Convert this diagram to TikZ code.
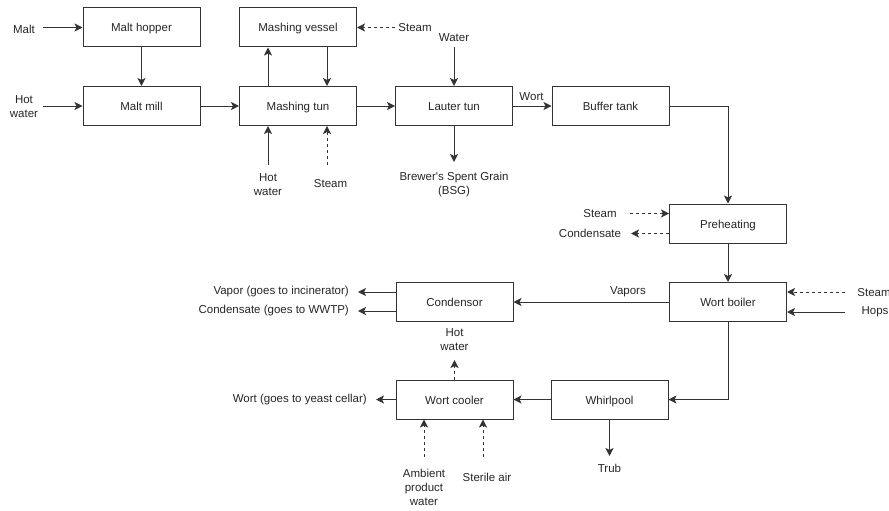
\documentclass[tikz,border=0pt]{standalone}
\usepackage{fontspec}
\setmainfont{Liberation Sans}
\usetikzlibrary{arrows.meta}
\begin{document}
\begin{tikzpicture}[x=1pt,y=-1pt,
  font=\fontsize{11.5}{14}\selectfont,
  unit/.style={draw=black!80, line width=1pt, minimum width=117pt, minimum height=39pt, inner sep=0pt,
    text=black!85, text height=9.5pt, text depth=0.5pt},
  lbl/.style={inner sep=0pt, text=black!85, align=center},
  lblr/.style={lbl, anchor=east},
  flow/.style={draw=black!80, line width=1pt, -{Stealth[length=8pt,width=8pt,inset=2pt]}},
  util/.style={flow, dash pattern=on 3pt off 3pt}
]
\useasboundingbox (0,0) rectangle (889,511);

% process units
\node[unit] (hopper) at (141.5,27.5) {Malt hopper};
\node[unit] (mill)   at (141.5,106)  {Malt mill};
\node[unit] (vessel) at (298,27.5)   {Mashing vessel};
\node[unit] (mtun)   at (298,106)    {Mashing tun};
\node[unit] (lauter) at (454,106)    {Lauter tun};
\node[unit] (buffer) at (610.5,106)  {Buffer tank};
\node[unit] (preheat) at (728,223.5) {Preheating};
\node[unit] (boiler) at (728,302)    {Wort boiler};
\node[unit] (condensor) at (454.5,302) {Condensor};
\node[unit] (whirl)  at (609.5,399.5) {Whirlpool};
\node[unit] (cooler) at (454.5,399.5) {Wort cooler};

% stream labels
\node[lbl] (tMalt)   at (24,29)    {Malt};
\node[lbl] (tHotL)   at (24,107)   {Hot\\water};
\node[lbl] (tSteamV) at (415,28)   {Steam};
\node[lbl] (tHotB)   at (268,185)  {Hot\\water};
\node[lbl] (tSteamB) at (330.5,184) {Steam};
\node[lbl] (tWater)  at (454,38)   {Water};
\node[lbl] (tBSG)    at (454,185)  {Brewer\textquotesingle s Spent Grain\\(BSG)};
\node[lbl] (tWort)   at (531.5,97) {Wort};
\node[lbl] (tSteamP) at (600,214)  {Steam};
\node[lbl] (tCondP)  at (590,233)  {Condensate};
\node[lbl] (tSteamW) at (874,293)  {Steam};
\node[lbl] (tHops)   at (875,312)  {Hops};
\node[lbl] (tVapors) at (628,292)  {Vapors};
\node[lblr] (tVapor) at (349,292)  {Vapor (goes to incinerator)};
\node[lblr] (tCondC) at (349,311)  {Condensate (goes to WWTP)};
\node[lblr] (tYeast) at (367,399.5) {Wort (goes to yeast cellar)};
\node[lbl] (tHotC)   at (454.5,340) {Hot\\water};
\node[lbl] (tTrub)   at (609.5,468) {Trub};
\node[lbl] (tAmb)    at (424,487)  {Ambient\\product\\water};
\node[lbl] (tSterile) at (487,477) {Sterile air};

% free stream ends
\coordinate (maltIn)   at (43,27.5);
\coordinate (hotLIn)   at (43,106);
\coordinate (steamVIn) at (395,27.5);
\coordinate (hotBIn)   at (268,165);
\coordinate (steamBIn) at (327,165);
\coordinate (waterIn)  at (454,47);
\coordinate (bsgOut)   at (454,162);
\coordinate (steamPIn) at (630,213.5);
\coordinate (condPOut) at (631,233.5);
\coordinate (steamWIn) at (845,292);
\coordinate (hopsIn)   at (845,312);
\coordinate (vapOut)   at (358,292);
\coordinate (condCOut) at (358,311);
\coordinate (yeastOut) at (376,399.5);
\coordinate (hotCOut)  at (454.5,360);
\coordinate (trubOut)  at (609.5,456);
\coordinate (ambIn)    at (424,457);
\coordinate (sterIn)   at (483,457);

% main flow
\draw[flow] (maltIn) -- (maltIn -| hopper.west);
\draw[flow] (hotLIn) -- (hotLIn -| mill.west);
\draw[flow] (hopper) -- (mill);
\draw[flow] (mill) -- (mtun);
\draw[flow] ([xshift=-30pt]mtun.north) -- ([xshift=-30pt]vessel.south);
\draw[flow] ([xshift=29pt]vessel.south) -- ([xshift=29pt]mtun.north);
\draw[util] (steamVIn) -- (steamVIn -| vessel.east);
\draw[flow] (hotBIn) -- (hotBIn |- mtun.south);
\draw[util] (steamBIn) -- (steamBIn |- mtun.south);
\draw[flow] (mtun) -- (lauter);
\draw[flow] (waterIn) -- (lauter.north);
\draw[flow] (lauter.south) -- (bsgOut);
\draw[flow] (lauter) -- (buffer);
\draw[flow] (buffer.east) -| (preheat.north);
\draw[util] (steamPIn) -- (steamPIn -| preheat.west);
\draw[util] (condPOut -| preheat.west) -- (condPOut);
\draw[flow] (preheat) -- (boiler);
\draw[util] (steamWIn) -- (steamWIn -| boiler.east);
\draw[flow] (hopsIn) -- (hopsIn -| boiler.east);
\draw[flow] (boiler) -- (condensor);
\draw[flow] (vapOut -| condensor.west) -- (vapOut);
\draw[flow] (condCOut -| condensor.west) -- (condCOut);
\draw[flow] (boiler.south) |- (whirl.east);
\draw[flow] (whirl) -- (cooler);
\draw[flow] (cooler.west) -- (yeastOut);
\draw[util] (cooler.north) -- (hotCOut);
\draw[flow] (whirl.south) -- (trubOut);
\draw[util] (ambIn) -- (ambIn |- cooler.south);
\draw[util] (sterIn) -- (sterIn |- cooler.south);
\end{tikzpicture}
\end{document}
